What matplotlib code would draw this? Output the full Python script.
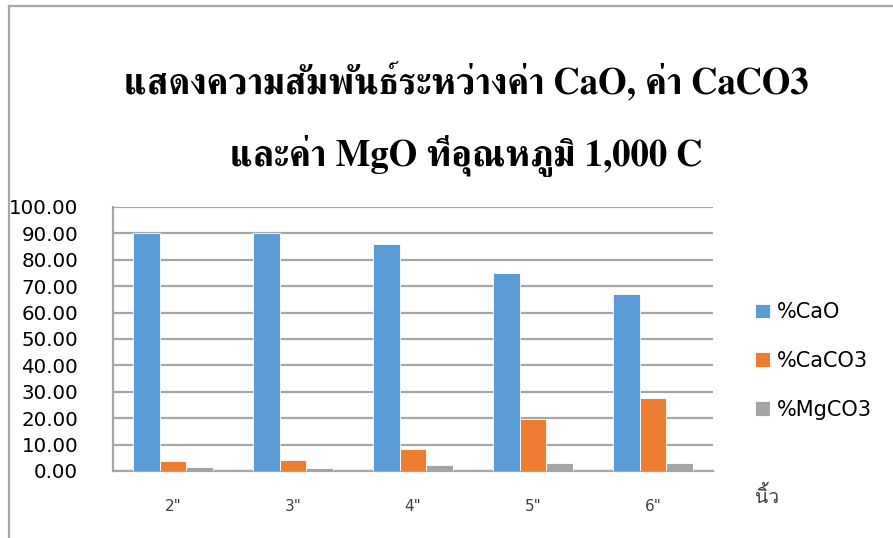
import numpy as np
import matplotlib
matplotlib.use("Agg")
import matplotlib.pyplot as plt
from matplotlib.lines import Line2D

# pipe size (inches) and oxide / carbonate content in percent
sizes = ['2"', '3"', '4"', '5"', '6"']
cao = [90.2, 90.2, 86.0, 75.0, 67.0]
caco3 = [3.8, 4.2, 8.3, 19.8, 27.7]
mgco3 = [1.7, 1.3, 2.4, 3.0, 3.2]

series_names = ["%CaO", "%CaCO3", "%MgCO3"]
series_colors = ["#5b9bd5", "#ed7d31", "#a5a5a5"]

title_line1 = "แสดงความสัมพันธ์ระหว่างค่า CaO, ค่า CaCO3"
title_line2 = "และค่า MgO ที่อุณหภูมิ 1,000 C"
unit_label = "นิ้ว"

plt.rcParams['font.family'] = ['DejaVu Sans']

fig = plt.figure(figsize=(8.93, 5.38), dpi=100)
ax = fig.add_axes([113 / 893, 1 - 471 / 538, 600 / 893, 264 / 538])

x = np.arange(len(sizes))
w = 0.222
for i, (vals, name, col) in enumerate(zip([cao, caco3, mgco3], series_names, series_colors)):
    ax.bar(x + (i - 1) * w, vals, width=w, color=col, edgecolor="white",
           linewidth=0.6, label=name, zorder=3)

ax.set_xlim(-0.5, len(sizes) - 0.5)
ax.set_ylim(0, 100)
ax.set_yticks(np.arange(0, 101, 10))
ax.set_yticklabels([f"{v:.2f}" for v in np.arange(0, 101, 10)], fontsize=14.3)
ax.set_xticks(x)
ax.set_xticklabels(sizes, fontsize=11, color="#404040")
ax.tick_params(axis="both", length=0)
ax.tick_params(axis="y", pad=25)
ax.tick_params(axis="x", pad=20)

ax.grid(axis="y", color="#a6a6a6", linewidth=1.6, zorder=0)
for side in ["top", "right"]:
    ax.spines[side].set_visible(False)
for side in ["left", "bottom"]:
    ax.spines[side].set_color("#a6a6a6")
    ax.spines[side].set_linewidth(1.6)

fig.legend(loc="center left", bbox_to_anchor=(745 / 893, 1 - 361 / 538),
           frameon=False, fontsize=15, handlelength=0.7, handleheight=0.7,
           handletextpad=0.35, labelspacing=1.38, borderpad=0)

title_font = ['FreeSerif', 'DejaVu Serif']
fig.text(466 / 893, 1 - 82 / 538, title_line1, ha="center", va="center",
         fontsize=26.5, fontweight="bold", family=title_font)
fig.text(466 / 893, 1 - 155 / 538, title_line2, ha="center", va="center",
         fontsize=26.5, fontweight="bold", family=title_font)

fig.text(767 / 893, 1 - 496 / 538, unit_label, ha="center", va="center",
         fontsize=14, color="#404040", family=['Loma', 'DejaVu Sans'])

# chart area border on the top and left
fig.add_artist(Line2D([9 / 893, 1], [1 - 6 / 538, 1 - 6 / 538], color="#a6a6a6",
                      linewidth=1.6, transform=fig.transFigure))
fig.add_artist(Line2D([9 / 893, 9 / 893], [0, 1 - 6 / 538], color="#a6a6a6",
                      linewidth=1.6, transform=fig.transFigure))

fig.savefig("out.png", dpi=100, facecolor="white")
